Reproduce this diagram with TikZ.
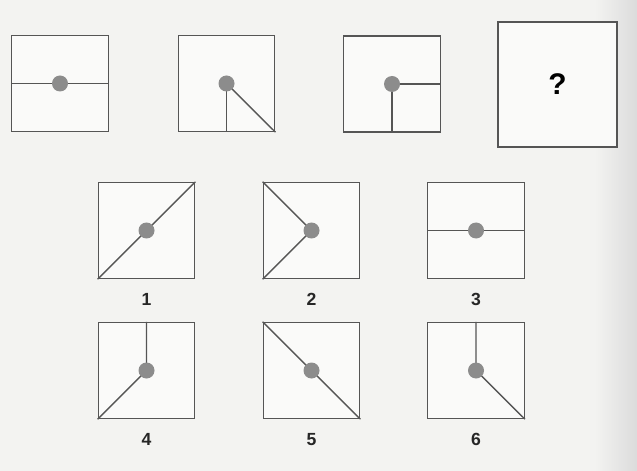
\documentclass[tikz,border=0pt]{standalone}
\usepackage{fontspec}
\setmainfont{Liberation Sans}
\usepackage{xcolor}
\usetikzlibrary{positioning}
\definecolor{paper}{HTML}{F3F3F1}
\definecolor{edge}{HTML}{555555}
\definecolor{blob}{HTML}{8C8C8C}
\tikzset{
  panel/.style={draw=edge, line width=0.8pt, minimum width=1.93cm, minimum height=1.92cm, inner sep=0pt, fill=white!60!paper},
  ln/.style={draw=edge, line width=0.8pt},
  dot/.style={circle, fill=blob, minimum size=3.2mm, inner sep=0pt},
  num/.style={font=\bfseries\fontsize{10}{12}\selectfont, text=black!85},
}
\begin{document}
\begin{tikzpicture}
\fill[paper] (0,0) rectangle (12.74,-9.42);
\shade[left color=paper, right color=black!14, draw=none] (11.9,0) rectangle (12.74,-9.42);
\useasboundingbox (0,0) rectangle (12.74,-9.42);
% question row
\node[panel] (pa) at (1.20,-1.67) {};
\node[panel] (pb) at (4.53,-1.67) {};
\node[panel] (pc) at (7.84,-1.68) {};
\node[panel, minimum width=2.38cm, minimum height=2.50cm, font=\bfseries\fontsize{17}{20}\selectfont] (pq) at (11.15,-1.69) {?};
\draw[ln] (pa.west) -- (pa.east);
\draw[ln] (pb.center) -- (pb.south); \draw[ln] (pb.center) -- (pb.south east);
\draw[ln] (pc.center) -- (pc.east); \draw[ln] (pc.center) -- (pc.south);
\node[dot] (da) at (pa.center) {};
\node[dot] (db) at (pb.center) {};
\node[dot] (dc) at (pc.center) {};
% answers
\node[panel] (o1) at (2.93,-4.61) {};
\node[panel] (o2) at (6.23,-4.61) {};
\node[panel] (o3) at (9.52,-4.61) {};
\node[panel] (o4) at (2.93,-7.41) {};
\node[panel] (o5) at (6.23,-7.41) {};
\node[panel] (o6) at (9.52,-7.41) {};
\draw[ln] (o1.south west) -- (o1.north east);
\draw[ln] (o2.north west) -- (o2.center) -- (o2.south west);
\draw[ln] (o3.west) -- (o3.east);
\draw[ln] (o4.north) -- (o4.center) -- (o4.south west);
\draw[ln] (o5.north west) -- (o5.south east);
\draw[ln] (o6.north) -- (o6.center) -- (o6.south east);
\node[dot] (d1) at (o1.center) {};
\node[dot] (d2) at (o2.center) {};
\node[dot] (d3) at (o3.center) {};
\node[dot] (d4) at (o4.center) {};
\node[dot] (d5) at (o5.center) {};
\node[dot] (d6) at (o6.center) {};
\node[num, below=0.16cm of o1] (l1) {1};
\node[num, below=0.16cm of o2] (l2) {2};
\node[num, below=0.16cm of o3] (l3) {3};
\node[num, below=0.16cm of o4] (l4) {4};
\node[num, below=0.16cm of o5] (l5) {5};
\node[num, below=0.16cm of o6] (l6) {6};
\end{tikzpicture}
\end{document}
